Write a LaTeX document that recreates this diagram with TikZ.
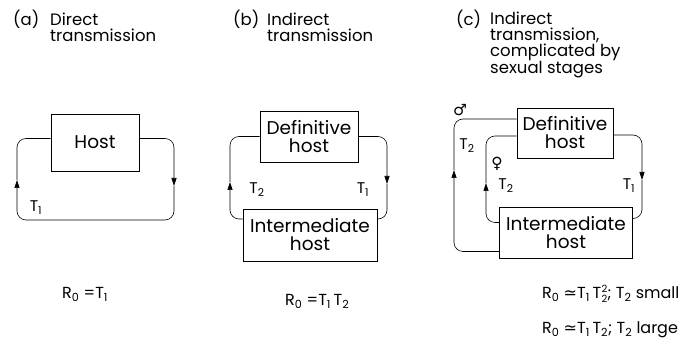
\documentclass[tikz,border=0pt]{standalone}
\usepackage{fontspec}
\setmainfont{Poppins}
\newfontfamily\symfont{DejaVu Sans}
\usetikzlibrary{arrows.meta}
\newcommand\Tn[1]{T\textsubscript{#1}}
\newcommand\Rn{R\textsubscript{0}}
% T with a stacked super- and subscript 2
\newcommand\Tsq{T\hspace{0.5pt}\raisebox{-3.5pt}{\fontsize{10}{9.5}\selectfont\shortstack[l]{2\\2}}}

\begin{document}
\begin{tikzpicture}[x=1pt,y=-1pt,
  hostbox/.style={draw, line width=0.6pt, align=center, inner sep=0pt,
    font=\fontsize{18.5}{18}\selectfont},
  flow/.style={line width=0.6pt, rounded corners=9pt},
  tip/.style={-{Triangle[length=8pt,width=5pt]}},
  title/.style={anchor=base west, align=left, inner sep=0pt,
    font=\fontsize{16.5}{16}\selectfont},
  lab/.style={inner sep=0pt, font=\fontsize{15.5}{15}\selectfont},
  formula/.style={anchor=base west, inner sep=0pt, font=\fontsize{16}{16}\selectfont}]
\useasboundingbox (0,0) rectangle (694,344);

% ---------- (a) direct transmission ----------
\node[title] (pa) at (13,26) {(a)};
\node[title] (pa2) at (50,42) {Direct\\transmission};
\node[hostbox, minimum width=88pt, minimum height=57pt] (host) at (95,142.5) {Host};
\coordinate (aR) at (174,186);
\coordinate (aB) at (95,220);
\coordinate (aL) at (17,180);
\draw[flow,tip] ([yshift=4pt]host.east) -| (aR);
\draw[flow,tip] (aR) |- (aB) -| (aL);
\draw[flow] (aL) |- ([yshift=4pt]host.west);
\node[lab] (ta) at (36,208) {\Tn{1}};
\node[formula] (ra) at (62,299) {\Rn\ =\Tn{1}};

% ---------- (b) indirect transmission ----------
\node[title] (pb) at (233,26) {(b)};
\node[title] (pb2) at (267,42) {Indirect\\transmission};
\node[hostbox, minimum width=98pt, minimum height=51pt] (bdef) at (309,136.5) {Definitive\\host};
\node[hostbox, minimum width=134pt, minimum height=52pt] (bint) at (310,235) {Intermediate\\host};
\coordinate (bR) at (387,184);
\coordinate (bL) at (230,182);
\draw[flow,tip] (bdef.east) -| (bR);
\draw[flow] (bR) |- ([yshift=16pt]bint.east);
\draw[flow,tip] ([yshift=16pt]bint.west) -| (bL);
\draw[flow] (bL) |- (bdef.west);
\node[lab] (tb2) at (257,190) {\Tn{2}};
\node[lab] (tb1) at (363,190) {\Tn{1}};
\node[formula] (rb) at (285,306) {\Rn\ =\Tn{1}\,\Tn{2}};

% ---------- (c) indirect transmission with sexual stages ----------
\node[title] (pc) at (456,26) {(c)};
\node[title] (pc2) at (490,74) {Indirect\\transmission,\\complicated by\\sexual stages};
\node[hostbox, minimum width=96pt, minimum height=50pt] (cdef) at (565,133) {Definitive\\host};
\node[hostbox, minimum width=133pt, minimum height=51pt] (cint) at (566,232.5) {Intermediate\\host};
\coordinate (cR) at (642,180);
\coordinate (cLo) at (454,170);
\coordinate (cLi) at (486,183);
\draw[flow,tip] ([yshift=-2pt]cdef.east) -| (cR);
\draw[flow] (cR) |- ([yshift=14pt]cint.east);
\draw[flow,tip] ([yshift=-19pt]cint.west) -| (cLo);
\draw[flow] (cLo) |- ([yshift=14pt]cdef.west);
\draw[flow,tip] ([yshift=10pt]cint.west) -| (cLi);
\draw[flow] (cLi) |- ([yshift=-3pt]cdef.west);
\node[lab] (male) at (460,110) {\symfont ♂};
\node[lab] (female) at (497,164) {\symfont ♀};
\node[lab] (tco) at (467,146) {\Tn{2}};
\node[lab] (tci) at (506,186) {\Tn{2}};
\node[lab] (tc1) at (629,186) {\Tn{1}};
\node[formula] (rc1) at (542,299) {\Rn\ {\symfont ≃}\Tn{1}\,\Tsq; \Tn{2} small};
\node[formula] (rc2) at (542,334) {\Rn\ {\symfont ≃}\Tn{1}\,\Tn{2}; \Tn{2} large};
\end{tikzpicture}
\end{document}
